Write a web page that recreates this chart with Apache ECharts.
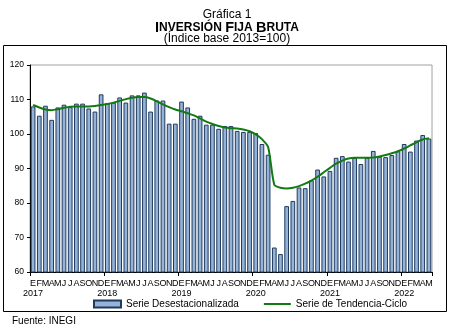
<!DOCTYPE html>
<html>
<head>
<meta charset="utf-8">
<script src="https://cdn.jsdelivr.net/npm/echarts@6/dist/echarts.min.js"></script>
<style>
html,body{margin:0;padding:0;background:#fff;}
#c{width:454px;height:333px;}
</style>
</head>
<body>
<div id="c"></div>
<script>
var monthLetters = ['E','F','M','A','M','J','J','A','S','O','N','D'];
var years = ['2017','2018','2019','2020','2021','2022'];
var nMonths = 65;
var yTicks = [60, 70, 80, 90, 100, 110, 120];

var desestacionalizada = [
  108.0,105.3,108.2,104.1,107.7,108.5,107.8,108.8,108.8,107.4,106.5,111.5,
  108.9,109.1,110.6,109.1,111.2,111.2,112.0,106.5,109.7,109.7,103.0,103.0,
  109.4,107.7,104.4,105.3,102.7,102.7,101.5,102.3,102.3,100.9,100.6,100.6,
  100.3,97.1,94.0,67.1,65.2,79.1,80.6,84.5,84.3,86.6,89.7,87.7,
  89.3,93.1,93.6,92.0,93.1,91.3,93.1,95.1,93.4,93.3,93.9,95.0,
  97.1,94.9,98.1,99.7,98.7
];
var tendencia = [
  108.4,107.7,107.1,106.9,107.2,107.6,107.9,108.0,108.0,108.0,108.1,108.4,
  108.7,109.1,109.6,110.1,110.5,110.7,110.7,110.3,109.5,108.6,107.8,107.1,
  106.6,106.0,105.4,104.5,103.6,102.9,102.3,101.9,101.7,101.6,101.3,100.8,
  99.9,98.5,96.2,85.3,84.4,84.2,84.4,84.9,85.6,86.5,87.6,88.9,
  90.2,91.4,92.3,92.9,93.1,93.1,93.1,93.2,93.5,93.9,94.4,95.0,
  95.8,96.7,97.6,98.4,98.8
];

var categories = [];
for (var i = 0; i < nMonths; i++) {
  categories.push(monthLetters[i % 12] + '|' + years[Math.floor(i / 12)]);
}

var FONT = '"Liberation Sans", Arial, sans-serif';
var chart = echarts.init(document.getElementById('c'), null, {renderer: 'canvas'});
chart.setOption({
  animation: false,
  backgroundColor: '#ffffff',
  title: [
    {text: 'Gráfica 1', left: 'center', top: 4,
     textStyle: {fontFamily: FONT, fontSize: 12, fontWeight: 'normal', color: '#000'}},
    {text: '{b|I}{s|NVERSIÓN }{b|F}{s|IJA }{b|B}{s|RUTA}', left: 'center', top: 15,
     textStyle: {rich: {
       b: {fontFamily: FONT, fontSize: 14.5, fontWeight: 'bold', color: '#000'},
       s: {fontFamily: FONT, fontSize: 12, fontWeight: 'bold', color: '#000'}
     }}},
    {text: '(Índice base 2013=100)', left: 'center', top: 28,
     textStyle: {fontFamily: FONT, fontSize: 12, fontWeight: 'normal', color: '#000'}}
  ],
  graphic: [
    {type: 'rect', shape: {x: 3.5, y: 45.5, width: 443, height: 266},
     style: {fill: 'none', stroke: '#000', lineWidth: 1}, silent: true},
    {type: 'text', left: 12, top: 316,
     style: {text: 'Fuente: INEGI', font: '10px ' + FONT, fill: '#000'}}
  ],
  grid: {left: 30, right: 22, top: 65, bottom: 61, show: true,
         borderColor: '#a0a0a0', borderWidth: 1, backgroundColor: 'transparent'},
  legend: {
    left: 88, top: 294, itemGap: 24, itemWidth: 27, itemHeight: 7,
    textStyle: {fontFamily: FONT, fontSize: 10, color: '#000'},
    data: [
      {name: 'Serie Desestacionalizada', icon: 'rect'},
      {name: 'Serie de Tendencia-Ciclo', itemStyle: {opacity: 0}}
    ]
  },
  xAxis: {
    type: 'category', data: categories, boundaryGap: true,
    axisLine: {show: true, lineStyle: {color: '#000', width: 1}},
    axisTick: {show: true, length: 4, lineStyle: {color: '#000'},
               interval: function (idx) { return idx % 12 === 0; }},
    axisLabel: {
      interval: 0, margin: 7, color: '#000', fontFamily: FONT, fontSize: 9, lineHeight: 10,
      formatter: function (val, idx) {
        var p = val.split('|');
        return (idx % 12 === 0) ? p[0] + '\n' + p[1] : p[0];
      }
    },
    splitLine: {show: false}
  },
  yAxis: {
    type: 'value', min: yTicks[0], max: yTicks[yTicks.length - 1], interval: 10,
    axisLine: {show: true, lineStyle: {color: '#000', width: 1}},
    axisTick: {show: true, length: 3, lineStyle: {color: '#000'}},
    axisLabel: {color: '#000', fontFamily: FONT, fontSize: 8.5, margin: 6},
    splitLine: {show: false}
  },
  series: [
    {name: 'Serie Desestacionalizada', type: 'bar', data: desestacionalizada,
     barCategoryGap: '24%',
     itemStyle: {color: '#95B3D7', borderColor: '#1F3A5F', borderWidth: 1}},
    {name: 'Serie de Tendencia-Ciclo', type: 'line', data: tendencia,
     symbol: 'none', smooth: 0.25, z: 5,
     lineStyle: {color: '#137A13', width: 2},
     itemStyle: {color: '#137A13'}}
  ]
});
</script>
</body>
</html>
